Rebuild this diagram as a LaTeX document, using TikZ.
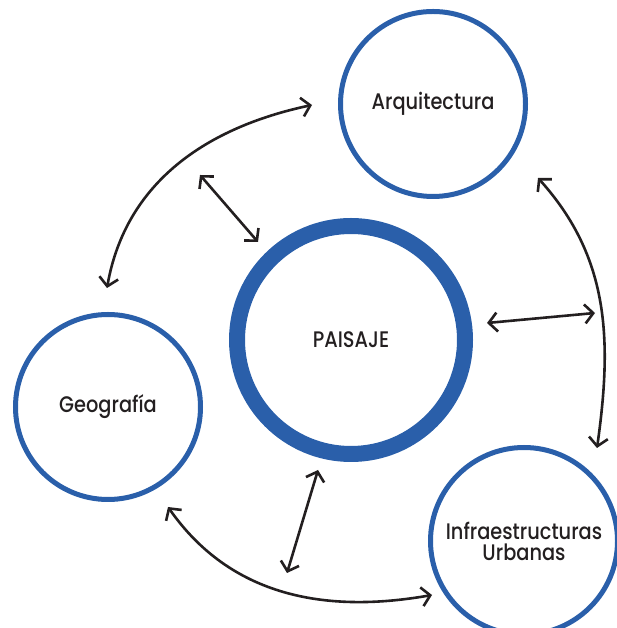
\documentclass[tikz,border=0pt]{standalone}
\usepackage{fontspec}
\setmainfont{Poppins}[UprightFont={* Medium},FakeStretch=0.86]
\usetikzlibrary{arrows.meta}
\definecolor{ringblue}{HTML}{2A5FAA}
\definecolor{ink}{HTML}{231F20}
\begin{document}
\begin{tikzpicture}[x=1pt,y=1pt,
  topic/.style={circle,draw=ringblue,line width=5pt,minimum size=185pt,inner sep=0pt,
    text=ink,font=\fontsize{22.5}{21}\selectfont,align=center},
  core/.style={circle,draw=ringblue,line width=16pt,minimum size=228pt,inner sep=0pt,
    text=ink,font=\fontsize{22.5}{21}\selectfont},
  link/.style={draw=ink,line width=2.6pt,{Straight Barb[length=8.5pt,width=19pt]}-{Straight Barb[length=8.5pt,width=19pt]}}]
\useasboundingbox (0,0) rectangle (617,628);
\node[core] (p) at (351,288) {PAISAJE};
\node[topic] (a) at (433,524) {Arquitectura};
\node[topic] (g) at (108,221) {Geografía};
\node[topic,minimum size=187pt] (i) at (524,87) {Infraestructuras\\Urbanas};
% arrow endpoints
\coordinate (g1) at (107,340);
\coordinate (a1) at (312,523);
\coordinate (d1) at (200,453);
\coordinate (d2) at (258,386);
\coordinate (a2) at (538,450);
\coordinate (i1) at (597,180);
\coordinate (h1) at (487,305);
\coordinate (h2) at (595,315);
\coordinate (g2) at (168,121);
\coordinate (i2) at (432,33);
\coordinate (v1) at (318,158);
\coordinate (v2) at (287,55);
\draw[link] (g1) to[out=80,in=192] (a1);
\draw[link] (d1) -- (d2);
\draw[link] (a2) to[out=-48,in=82] (i1);
\draw[link] (h1) -- (h2);
\draw[link] (g2) to[out=-55,in=190] (i2);
\draw[link] (v1) -- (v2);
\end{tikzpicture}
\end{document}
